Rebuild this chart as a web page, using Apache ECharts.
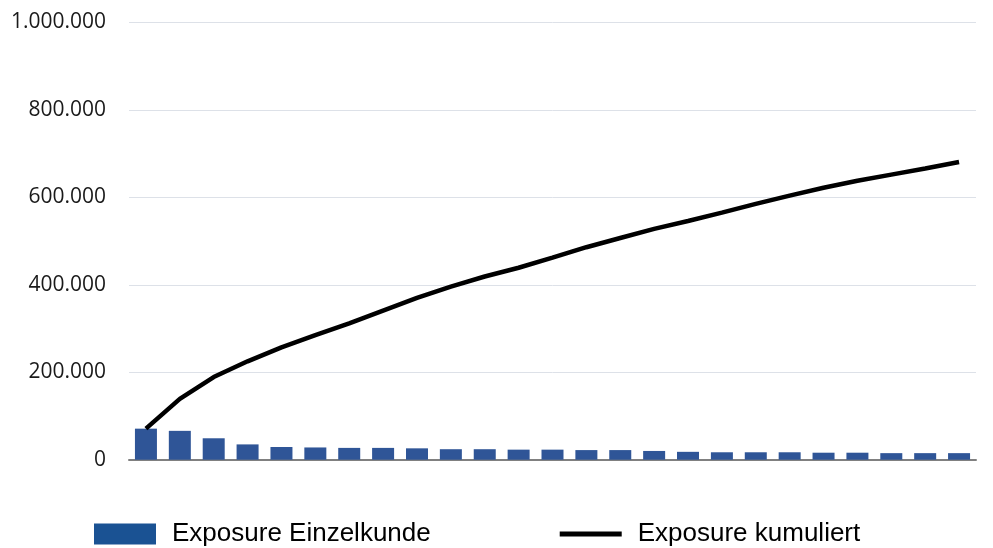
<!DOCTYPE html>
<html>
<head>
<meta charset="utf-8">
<script src="https://cdn.jsdelivr.net/npm/echarts@6/dist/echarts.min.js"></script>
<style>
  html, body { margin: 0; padding: 0; background: #fff; }
  #chart { width: 993px; height: 548px; }
</style>
</head>
<body>
<div id="chart"></div>
<script>
// Kunden nach Exposure sortiert (1..25)
const kunden = ['1', '2', '3', '4', '5', '6', '7', '8', '9', '10', '11', '12', '13',
  '14', '15', '16', '17', '18', '19', '20', '21', '22', '23', '24', '25'];

const exposureEinzel = [71000, 66000, 49000, 35000, 29000, 28000, 27000, 27000, 26000,
  24000, 24000, 23000, 23000, 22000, 22000, 20000, 18000, 17000, 17000, 17000,
  16000, 16000, 15000, 15000, 15000];

const exposureKumuliert = [71000, 139000, 189000, 225000, 257000, 285000, 312000, 341000,
  370000, 396000, 419000, 439000, 462000, 486000, 507000, 528000, 546000, 565000,
  585000, 604000, 622000, 638000, 652000, 666000, 681000];

const yTicks = [0, 200000, 400000, 600000, 800000, 1000000];

const fmtDE = v => String(v).replace(/\B(?=(\d{3})+(?!\d))/g, '.');

const chart = echarts.init(document.getElementById('chart'), null, { renderer: 'canvas' });

// Linien-Icon für die Legende: schmaler Balken mittig in einer 62x21 Box
const lineIcon = 'path://M0,0 L0,0 M0,21 L0,21 M0,8 L62,8 L62,13 L0,13 Z';

const option = {
  animation: false,
  backgroundColor: '#ffffff',
  grid: { left: 129, right: 17, top: 22.5, bottom: 88.3 },
  legend: {
    left: 89,
    top: 516,
    itemWidth: 62,
    itemHeight: 21,
    itemGap: 129,
    textStyle: {
      fontFamily: 'Liberation Sans',
      fontSize: 26,
      color: '#000',
      padding: [0, 0, 0, 11],
    },
    data: [
      { name: 'Exposure Einzelkunde', icon: 'rect', itemStyle: { color: '#1A5293' } },
      { name: 'Exposure kumuliert', icon: lineIcon, itemStyle: { color: '#000' } },
    ],
  },
  xAxis: {
    type: 'category',
    data: kunden,
    boundaryGap: true,
    axisLine: { lineStyle: { color: '#808080', width: 2 } },
    axisTick: { show: false },
    axisLabel: { show: false },
  },
  yAxis: {
    type: 'value',
    min: yTicks[0],
    max: yTicks[yTicks.length - 1],
    interval: yTicks[1] - yTicks[0],
    axisLine: { show: false },
    axisTick: { show: false },
    axisLabel: {
      margin: 23,
      fontFamily: 'Open Sans',
      fontSize: 21,
      color: '#1a1a1a',
      formatter: fmtDE,
    },
    splitLine: { lineStyle: { color: '#dde1e8', width: 1 } },
  },
  series: [
    {
      name: 'Exposure Einzelkunde',
      type: 'bar',
      data: exposureEinzel,
      barWidth: 22,
      itemStyle: { color: '#2F5597' },
    },
    {
      name: 'Exposure kumuliert',
      type: 'line',
      data: exposureKumuliert,
      symbol: 'none',
      lineStyle: { color: '#000', width: 4.5 },
      itemStyle: { color: '#000' },
    },
  ],
};

chart.setOption(option);
</script>
</body>
</html>
